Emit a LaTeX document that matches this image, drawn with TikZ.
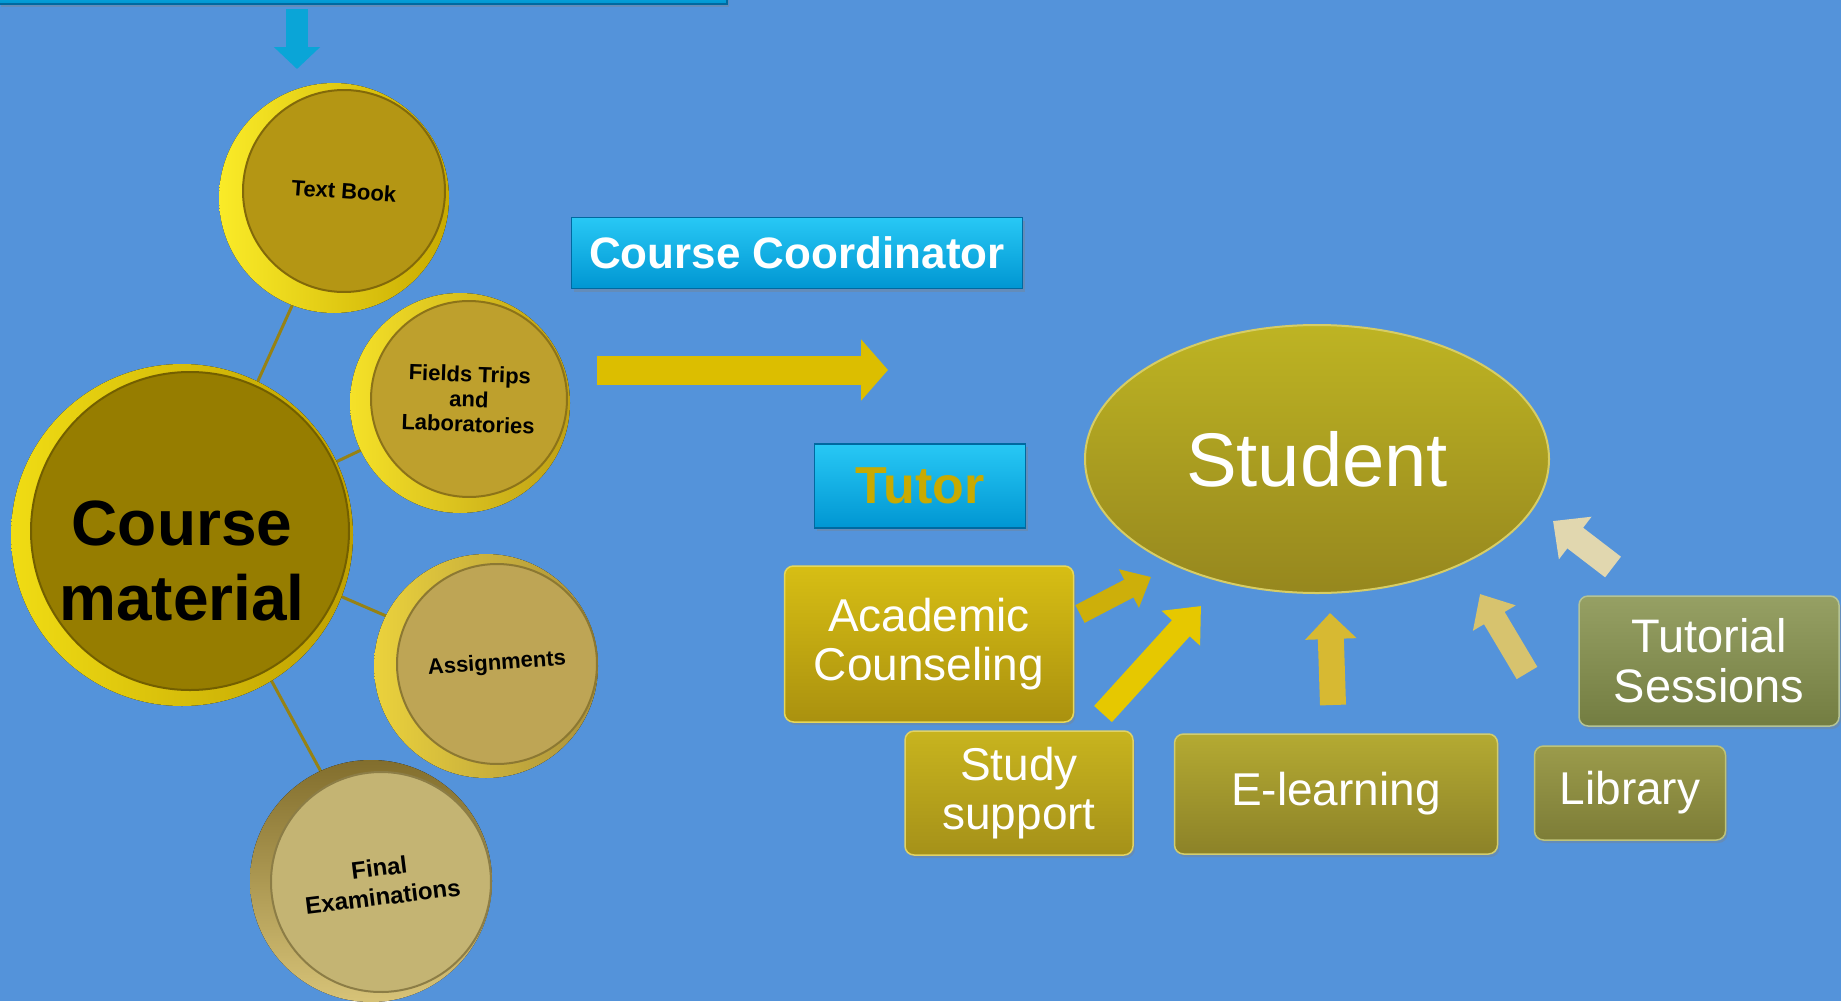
\documentclass[tikz,border=0pt]{standalone}
\usepackage{fontspec}
\setmainfont{Liberation Sans}
\usetikzlibrary{arrows.meta,shapes.geometric,shadows}
\definecolor{bgblue}{RGB}{84,147,218}
\definecolor{linkc}{RGB}{150,130,20}
\definecolor{cyanT}{RGB}{40,200,245}
\definecolor{cyanB}{RGB}{0,150,210}
\definecolor{cyanD}{RGB}{0,105,160}
\definecolor{cyanA}{RGB}{10,165,215}
\definecolor{tutorc}{RGB}{200,170,0}
% disc colours
\definecolor{tbL}{RGB}{250,235,40}\definecolor{tbR}{RGB}{200,170,0}
\definecolor{tbF}{RGB}{180,150,20}\definecolor{tbD}{RGB}{130,105,10}
\definecolor{cmL}{RGB}{240,220,20}\definecolor{cmR}{RGB}{190,160,0}
\definecolor{cmF}{RGB}{150,125,0}\definecolor{cmD}{RGB}{115,95,0}
\definecolor{ftL}{RGB}{245,225,40}\definecolor{ftR}{RGB}{190,160,20}
\definecolor{ftF}{RGB}{190,160,45}\definecolor{ftD}{RGB}{140,115,25}
\definecolor{asL}{RGB}{235,210,60}\definecolor{asR}{RGB}{170,145,60}
\definecolor{asF}{RGB}{190,165,85}\definecolor{asD}{RGB}{140,120,50}
\definecolor{feT}{RGB}{130,110,45}\definecolor{feB}{RGB}{215,195,120}
\definecolor{feF}{RGB}{196,180,115}\definecolor{feD}{RGB}{140,125,70}
% right side colours
\definecolor{arY}{RGB}{220,190,0}
\definecolor{stT}{RGB}{190,180,35}\definecolor{stB}{RGB}{150,135,30}\definecolor{stD}{RGB}{215,205,100}
\definecolor{acT}{RGB}{215,190,20}\definecolor{acB}{RGB}{170,145,15}\definecolor{acD}{RGB}{230,215,90}
\definecolor{ssT}{RGB}{200,180,30}\definecolor{ssB}{RGB}{165,145,25}\definecolor{ssD}{RGB}{225,210,100}
\definecolor{elT}{RGB}{180,170,50}\definecolor{elB}{RGB}{140,130,40}\definecolor{elD}{RGB}{210,205,110}
\definecolor{liT}{RGB}{155,155,75}\definecolor{liB}{RGB}{125,125,55}\definecolor{liD}{RGB}{190,195,120}
\definecolor{tuT}{RGB}{150,160,100}\definecolor{tuB}{RGB}{115,125,65}\definecolor{tuD}{RGB}{180,195,150}
\definecolor{arA}{RGB}{205,175,10}
\definecolor{arB}{RGB}{230,200,0}
\definecolor{arC}{RGB}{215,185,50}
\definecolor{arD}{RGB}{215,195,110}
\definecolor{arE}{RGB}{225,215,175}
\pgfdeclarelayer{background}
\pgfsetlayers{background,main}
\tikzset{
  face/.style={circle, inner sep=0pt, align=center, text=black, line width=2pt,
    font=\bfseries\fontsize{22}{25}\selectfont},
  link/.style={draw=linkc, line width=3pt},
  sbox/.style={rounded corners=9pt, align=center, text=white, inner sep=0pt,
    line width=1.5pt, font=\fontsize{46}{49}\selectfont,
    drop shadow={shadow xshift=2pt, shadow yshift=-3pt, opacity=0.35}},
  cbox/.style={inner sep=0pt, top color=cyanT, bottom color=cyanB, draw=cyanD,
    line width=1.2pt, text=white, font=\bfseries\fontsize{44}{50}\selectfont,
    drop shadow={shadow xshift=2pt, shadow yshift=-3pt, opacity=0.35}},
  barrow/.style n args={4}{draw=#4, line width=#1, -{Triangle[width=#2, length=#3]}}
}
\begin{document}
\begin{tikzpicture}[x=1pt,y=-1pt]
\useasboundingbox (0,0) rectangle (1841,1001);
\begin{pgfonlayer}{background}
\fill[bgblue] (0,0) rectangle (1841,1001);
\end{pgfonlayer}

% top bar and down arrow
\node[cbox, minimum width=728pt, minimum height=36pt] (topbar) at (363,-14) {};
\coordinate (dA) at (297,9);
\coordinate (dB) at (297,69);
\draw[barrow={22pt}{45pt}{22pt}{cyanA}] (dA) -- (dB);

% discs: rims
\fill[left color=tbL, right color=tbR] (334,198) circle[radius=115pt];
\fill[left color=cmL, right color=cmR] (182,535) circle[radius=171pt];
\fill[left color=ftL, right color=ftR] (460,403) circle[radius=110pt];
\fill[left color=asL, right color=asR] (486,666) circle[radius=112pt];
\fill[top color=feT, bottom color=feB] (371,881) circle[radius=121pt];

% discs: faces
\node[face, minimum size=202pt, fill=tbF, draw=tbD, rotate=-4] (tb) at (344,191) {Text Book};
\node[face, minimum size=318pt, fill=cmF, draw=cmD] (cm) at (190,531) {};
\node[font=\bfseries\fontsize{64}{75}\selectfont, align=center, inner sep=0pt] (cmt) at (182,561) {Course\\material};
\node[face, minimum size=196pt, fill=ftF, draw=ftD, rotate=-2] (ft) at (469,399) {Fields Trips\\and\\Laboratories};
\node[face, minimum size=200pt, fill=asF, draw=asD, rotate=4] (as) at (497,664) {Assignments};
\node[face, minimum size=220pt, fill=feF, draw=feD, rotate=7, font=\bfseries\fontsize{24}{29}\selectfont] (fe) at (381,882) {Final\\Examinations};

\begin{pgfonlayer}{background}
\draw[link] (cm) -- (tb);
\draw[link] (cm) -- (ft);
\draw[link] (cm) -- (as);
\draw[link] (cm) -- (fe);
\end{pgfonlayer}

% coordinator, tutor, big arrow
\node[cbox, minimum width=451pt, minimum height=71pt] (cc) at (797,253) {Course Coordinator};
\node[cbox, minimum width=211pt, minimum height=84pt, text=tutorc, font=\bfseries\fontsize{52}{56}\selectfont] (tutor) at (920,486) {Tutor};
\coordinate (yA) at (597,370);
\coordinate (yB) at (888,370);
\draw[barrow={29pt}{60pt}{27pt}{arY}] (yA) -- (yB);

% student
\node[ellipse, minimum width=464pt, minimum height=268pt, inner sep=0pt,
  top color=stT, bottom color=stB, draw=stD, line width=2pt, text=white,
  font=\fontsize{76}{80}\selectfont] (st) at (1317,459) {Student};

% boxes
\node[sbox, minimum width=289pt, minimum height=156pt, top color=acT, bottom color=acB, draw=acD] (ac) at (929,644) {Academic\\Counseling};
\node[sbox, minimum width=228pt, minimum height=124pt, top color=ssT, bottom color=ssB, draw=ssD] (ss) at (1019,793) {Study\\support};
\node[sbox, minimum width=323pt, minimum height=120pt, top color=elT, bottom color=elB, draw=elD] (el) at (1336,794) {E-learning};
\node[sbox, minimum width=191pt, minimum height=94pt, top color=liT, bottom color=liB, draw=liD] (lib) at (1630,793) {Library};
\node[sbox, minimum width=260pt, minimum height=130pt, top color=tuT, bottom color=tuB, draw=tuD,
  font=\fontsize{47}{50}\selectfont] (tu) at (1709,661) {Tutorial\\Sessions};

% small arrows towards student
\coordinate (a1) at (1080,614);
\coordinate (a2) at (1151,577);
\draw[barrow={20pt}{42pt}{25pt}{arA}] (a1) -- (a2);
\coordinate (b1) at (1103,714);
\coordinate (b2) at (1201,606);
\draw[barrow={24pt}{50pt}{30pt}{arB}] (b1) -- (b2);
\coordinate (c1) at (1333,705);
\coordinate (c2) at (1330,613);
\draw[barrow={26pt}{50pt}{26pt}{arC}] (c1) -- (c2);
\coordinate (d1) at (1527,673);
\coordinate (d2) at (1480,594);
\draw[barrow={24pt}{48pt}{28pt}{arD}] (d1) -- (d2);
\coordinate (e1) at (1613,567);
\coordinate (e2) at (1553,521);
\draw[barrow={26pt}{52pt}{28pt}{arE}] (e1) -- (e2);
\end{tikzpicture}
\end{document}
